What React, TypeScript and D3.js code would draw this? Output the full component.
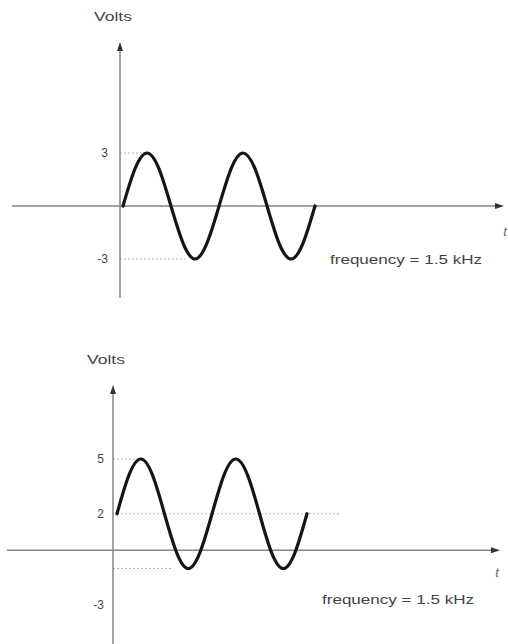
import React from "react";
import * as d3 from "d3";

// time samples (ms), eighth-period steps for a 1.5 kHz wave (period ≈ 0.667 ms)
const timeMs = [0, 0.083, 0.167, 0.25, 0.333, 0.417, 0.5, 0.583, 0.667, 0.75, 0.833, 0.917, 1.0, 1.083, 1.167, 1.25, 1.333];
// panel 1: pure AC, ±3 V
const topVolts = [0, 2.1, 3, 2.1, 0, -2.1, -3, -2.1, 0, 2.1, 3, 2.1, 0, -2.1, -3, -2.1, 0];
// panel 2: 2 V DC offset + 3 V amplitude
const bottomVolts = [2, 4.1, 5, 4.1, 2, -0.1, -1, -0.1, 2, 4.1, 5, 4.1, 2, -0.1, -1, -0.1, 2];

const topTicks = [3, -3];
const bottomTicks = [5, 2, -3];

// dotted guide lines: [volts, start time, end time] (null start = from y-axis)
const topGuides: [number, number | null, number][] = [
  [3, null, 0.15],
  [-3, null, 0.44],
];
const bottomGuides: [number, number | null, number][] = [
  [5, null, 0.13],
  [2, 0, 1.57],
  [-1, null, 0.39],
];

const yLabel = "Volts";
const xLabel = "t";
const freqLabel = "frequency = 1.5 kHz";

type PanelProps = {
  volts: number[];
  ticks: number[];
  guides: [number, number | null, number][];
  yDomain: [number, number];
  yRange: [number, number];
  xRange: [number, number];
  axisX: number;
  axisTop: number;
  axisBottom: number;
  xAxisLeft: number;
  xAxisRight: number;
  voltsPos: [number, number];
  tPos: [number, number];
  freqPos: [number, number];
  tickLabelX: number;
};

function Panel(p: PanelProps) {
  const x = d3.scaleLinear().domain([0, timeMs[timeMs.length - 1]]).range(p.xRange);
  const y = d3.scaleLinear().domain(p.yDomain).range(p.yRange);
  const y0 = y(0);
  const line = d3
    .line<number>()
    .x((_, i) => x(timeMs[i]))
    .y((v) => y(v))
    .curve(d3.curveNatural);
  const axisColor = "#858585";
  const textColor = "#444";
  const font = "'Liberation Sans', Arial, sans-serif";
  return (
    <g>
      {/* dotted guides */}
      {p.guides.map(([v, s, e], i) => (
        <line
          key={i}
          x1={s === null ? p.axisX : x(s)}
          x2={x(e)}
          y1={y(v)}
          y2={y(v)}
          stroke="#b8b8b8"
          strokeWidth={1}
          strokeDasharray="2,2"
        />
      ))}
      {/* axes */}
      <line x1={p.axisX} x2={p.axisX} y1={p.axisTop + 6} y2={p.axisBottom} stroke={axisColor} strokeWidth={1.5} />
      <path
        d={`M${p.axisX},${p.axisTop} L${p.axisX - 3},${p.axisTop + 9} L${p.axisX + 3},${p.axisTop + 9} Z`}
        fill="#333"
      />
      <line x1={p.xAxisLeft} x2={p.xAxisRight - 6} y1={y0} y2={y0} stroke={axisColor} strokeWidth={1.5} />
      <path
        d={`M${p.xAxisRight},${y0} L${p.xAxisRight - 9},${y0 - 3} L${p.xAxisRight - 9},${y0 + 3} Z`}
        fill="#333"
      />
      {/* wave */}
      <path d={line(p.volts) || ""} fill="none" stroke="#151515" strokeWidth={3.2} strokeLinecap="round" />
      {/* tick labels */}
      {p.ticks.map((t) => (
        <text
          key={t}
          x={p.tickLabelX}
          y={y(t)}
          dy="0.36em"
          textAnchor="end"
          fontFamily={font}
          fontSize={12}
          fill={textColor}
        >
          {t}
        </text>
      ))}
      <text
        x={p.voltsPos[0]}
        y={p.voltsPos[1]}
        textAnchor="middle"
        fontFamily={font}
        fontSize={12}
        fill={textColor}
        textLength={38}
        lengthAdjust="spacingAndGlyphs"
      >
        {yLabel}
      </text>
      <text
        x={p.tPos[0]}
        y={p.tPos[1]}
        textAnchor="middle"
        fontFamily={font}
        fontStyle="italic"
        fontSize={13}
        fill="#666"
      >
        {xLabel}
      </text>
      <text
        x={p.freqPos[0]}
        y={p.freqPos[1]}
        fontFamily={font}
        fontSize={12}
        fill={textColor}
        textLength={152}
        lengthAdjust="spacingAndGlyphs"
      >
        {freqLabel}
      </text>
    </g>
  );
}

export default function App() {
  return (
    <svg
      width={508}
      height={644}
      style={{ position: "absolute", left: 0, top: 0, background: "#fff" }}
    >
      <Panel
        volts={topVolts}
        ticks={topTicks}
        guides={topGuides}
        yDomain={[-3, 3]}
        yRange={[259, 153]}
        xRange={[123, 315]}
        axisX={120}
        axisTop={42}
        axisBottom={298}
        xAxisLeft={12}
        xAxisRight={504}
        voltsPos={[113, 21]}
        tPos={[505, 236]}
        freqPos={[330, 264]}
        tickLabelX={108}
      />
      <Panel
        volts={bottomVolts}
        ticks={bottomTicks}
        guides={bottomGuides}
        yDomain={[-3, 5]}
        yRange={[605, 459]}
        xRange={[117, 307]}
        axisX={113}
        axisTop={385}
        axisBottom={644}
        xAxisLeft={7}
        xAxisRight={500}
        voltsPos={[106, 364]}
        tPos={[497, 577]}
        freqPos={[322, 604]}
        tickLabelX={104}
      />
    </svg>
  );
}
